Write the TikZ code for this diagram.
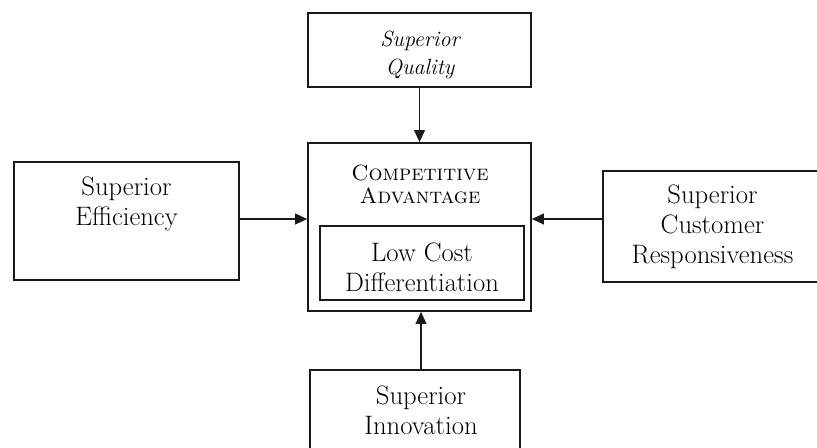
\documentclass[tikz,border=0pt]{standalone}
\usetikzlibrary{arrows.meta}
\begin{document}
\begin{tikzpicture}[x=0.75pt,y=-0.75pt,
  box/.style={draw=black!90,line width=1.2pt,inner sep=0pt},
  lbl/.style={inner sep=0pt,align=center,font=\fontsize{20}{22.5}\selectfont},
  arr/.style={draw=black!90,line width=1.2pt,-{Triangle[length=9pt,width=8pt]}}]
\useasboundingbox (0,0) rectangle (817,448);
\clip (0,0) rectangle (817,448);
% boxes of the surrounding sources of advantage
\node[box,minimum width=167.25pt,minimum height=55.5pt] (quality) at (419.5,50) {};
\node[box,minimum width=168.75pt,minimum height=88.5pt] (eff) at (126.5,221) {};
\node[box,minimum width=164.25pt,minimum height=83.25pt] (resp) at (712.5,226.5) {};
\node[box,minimum width=157.5pt,minimum height=63.75pt] (innov) at (415,412.5) {};
% central box with its inner box
\node[box,minimum width=167.25pt,minimum height=126pt] (adv) at (419.5,227) {};
\node[box,minimum width=153pt,minimum height=55.5pt] (types) at (422,263) {};
% texts
\node[lbl,font=\fontsize{16.5}{21}\selectfont\itshape] (qtext) at (420,55) {Superior\\Quality};
\node[lbl] (efftext) at (126.5,204) {Superior\\Efficiency};
\node[lbl] (resptext) at (712.5,227) {Superior\\Customer\\Responsiveness};
\node[lbl] (innovtext) at (421,410) {Superior\\Innovation};
\node[lbl,font=\fontsize{16.5}{17.25}\selectfont] (advtitle) at (420,184)
  {\textsc{Competitive}\\\textsc{Advantage}};
\node[lbl] (typestext) at (422,267) {Low Cost\\Differentiation};
% arrows into the central box
\draw[arr] ([yshift=1.5pt]eff.east) -- ([yshift=1.5pt]eff.east -| adv.west);
\draw[arr] ([yshift=5.625pt]resp.west) -- ([yshift=5.625pt]resp.west -| adv.east);
\draw[arr] (quality.south) -- (adv.north);
\draw[arr] ([xshift=4.5pt]innov.north) -- ([xshift=4.5pt]innov.north |- adv.south);
\end{tikzpicture}
\end{document}
